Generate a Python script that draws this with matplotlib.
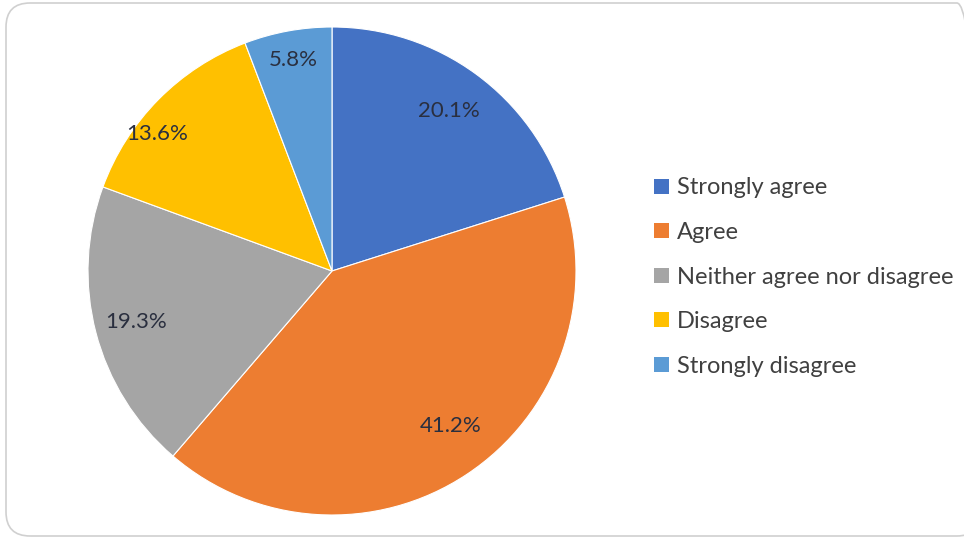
import numpy as np
import matplotlib.pyplot as plt
from matplotlib.patches import FancyBboxPatch, Patch

# survey responses, percent
labels = ['Strongly agree', 'Agree', 'Neither agree nor disagree', 'Disagree', 'Strongly disagree']
values = [20.1, 41.2, 19.3, 13.6, 5.8]
colors = ['#4472C4', '#ED7D31', '#A5A5A5', '#FFC000', '#5B9BD5']

# data label placement (fraction of radius, angle nudge in degrees) like excel's best fit
lab_dist = [0.81, 0.80, 0.83, 0.91, 0.88]
lab_nudge = [0, 4, 0, 6.5, 0]

plt.rcParams['font.family'] = ['Lato', 'DejaVu Sans']

W, H = 964, 540
fig = plt.figure(figsize=(W/100, H/100), dpi=100)

# rounded frame, right edge runs off the image
frame = FancyBboxPatch((6/W, 4/H), 975/W, 533/H, boxstyle='round,pad=0,rounding_size=0.025',
                       transform=fig.transFigure, facecolor='none', edgecolor='#d0d0d0',
                       linewidth=1.2, mutation_aspect=W/H, clip_on=False, zorder=-1)
fig.patches.append(frame)

# pie centre ~ (332, 271), radius ~244 px
cx, cy, r = 332, 271, 244
ax = fig.add_axes([(cx - r)/W, (H - cy - r)/H, 2*r/W, 2*r/H])
wedges, texts, autotexts = ax.pie(values, colors=colors, startangle=90, counterclock=False,
                                  autopct='%.1f%%', pctdistance=0.8, radius=1,
                                  wedgeprops=dict(linewidth=0.8, edgecolor='white'),
                                  textprops=dict(fontsize=16, color='#2a2f3f'))
for w, t, d, n in zip(wedges, autotexts, lab_dist, lab_nudge):
    a = np.deg2rad((w.theta1 + w.theta2)/2 + n)
    t.set_position((d*np.cos(a), d*np.sin(a)))
ax.set_xlim(-1, 1)
ax.set_ylim(-1, 1)
ax.set_aspect('equal')

handles = [Patch(facecolor=c, edgecolor='none') for c in colors]
fig.legend(handles, labels, loc='upper left', bbox_to_anchor=(645/W, 1 - 168/H),
           frameon=False, fontsize=17, labelcolor='#404040', handlelength=0.6,
           handleheight=0.6, handletextpad=0.35, labelspacing=1.0, borderaxespad=0)

fig.savefig('out.png', dpi=100)
